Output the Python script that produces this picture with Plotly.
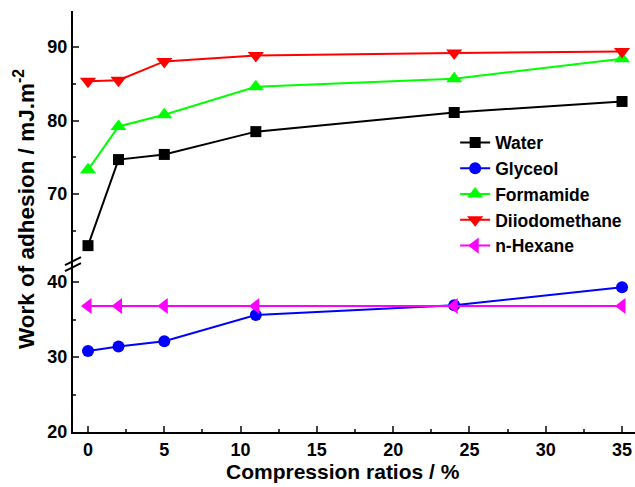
import plotly.graph_objects as go

x = [0, 2, 5, 11, 24, 35]
water = [63.0, 74.7, 75.4, 78.5, 81.1, 82.6]
glyceol = [30.8, 31.4, 32.1, 35.6, 36.9, 39.3]
formamide = [73.3, 79.2, 80.8, 84.6, 85.7, 88.4]
diiodomethane = [85.35, 85.5, 88.05, 88.85, 89.2, 89.4]
nhexane = [36.8, 36.8, 36.8, 36.8, 36.8, 36.8]

xticks = [0, 5, 10, 15, 20, 25, 30, 35]
lower_ticks = [20, 30, 40]
upper_ticks = [70, 80, 90]

FONT = "Arial, Liberation Sans, sans-serif"

fig = go.Figure()

series = [
    ("Water", water, "#000000", "square", 11, "y2"),
    ("Glyceol", glyceol, "#0000ff", "circle", 12, "y"),
    ("Formamide", formamide, "#00ff00", "triangle-up", 14, "y2"),
    ("Diiodomethane", diiodomethane, "#ff0000", "triangle-down", 14, "y2"),
    ("n-Hexane", nhexane, "#ff00ff", "triangle-left", 14, "y"),
]
for name, vals, col, sym, sz, ax in series:
    fig.add_trace(go.Scatter(
        x=x, y=vals, name=name, mode="lines+markers", yaxis=ax,
        line=dict(color=col, width=2),
        marker=dict(color=col, symbol=sym, size=sz, line=dict(width=0)),
        cliponaxis=False,
    ))

brk = 0.399
tickfont = dict(family=FONT, size=18, color="black", weight="bold")

fig.update_layout(
    width=635, height=487,
    margin=dict(l=73, r=0, t=11, b=55),
    plot_bgcolor="white", paper_bgcolor="white",
    showlegend=True,
    legend=dict(
        x=0.68, y=0.73, xanchor="left", yanchor="top",
        font=dict(family=FONT, size=17.5, color="black", weight="bold"),
        bgcolor="rgba(0,0,0,0)", borderwidth=0,
    ),
    xaxis=dict(
        range=[-0.983, 35.85], tickvals=xticks, ticks="inside", ticklen=6,
        tickwidth=2, showline=True, linewidth=2, linecolor="black",
        showgrid=False, zeroline=False, tickfont=tickfont,
        minor=dict(dtick=2.5, ticks="inside", ticklen=3, tickwidth=2, tick0=0),
        anchor="y",
    ),
    yaxis=dict(
        domain=[0, brk], range=[20, 42.4], tickvals=lower_ticks,
        ticks="inside", ticklen=6, tickwidth=2, showline=True, linewidth=2,
        linecolor="black", showgrid=False, zeroline=False, tickfont=tickfont,
        minor=dict(tickvals=[25, 35], ticks="inside", ticklen=3, tickwidth=2),
        anchor="x",
    ),
    yaxis2=dict(
        domain=[brk, 1], range=[60.5, 94.9], tickvals=upper_ticks,
        ticks="inside", ticklen=6, tickwidth=2, showline=True, linewidth=2,
        linecolor="black", showgrid=False, zeroline=False, tickfont=tickfont,
        minor=dict(tickvals=[65, 75, 85], ticks="inside", ticklen=3, tickwidth=2),
        anchor="x",
    ),
)

# axis break marks
for dy in (-3, 3):
    fig.add_shape(
        type="line", xref="paper", yref="paper",
        xsizemode="pixel", ysizemode="pixel", xanchor=0, yanchor=brk,
        x0=-8, x1=8, y0=dy - 4, y1=dy + 4,
        line=dict(color="black", width=2),
    )

fig.add_annotation(
    text="Work of adhesion / mJ.m<sup>-2</sup>", textangle=-90,
    xref="paper", yref="paper", x=-0.087, y=0.53,
    xanchor="center", yanchor="middle", showarrow=False,
    font=dict(family=FONT, size=22.5, color="black", weight="bold"),
)
fig.add_annotation(
    text="Compression ratios / %",
    xref="paper", yref="paper", x=0.48, y=-0.095,
    xanchor="center", yanchor="middle", showarrow=False,
    font=dict(family=FONT, size=21, color="black", weight="bold"),
)

fig.write_html("out.html")
